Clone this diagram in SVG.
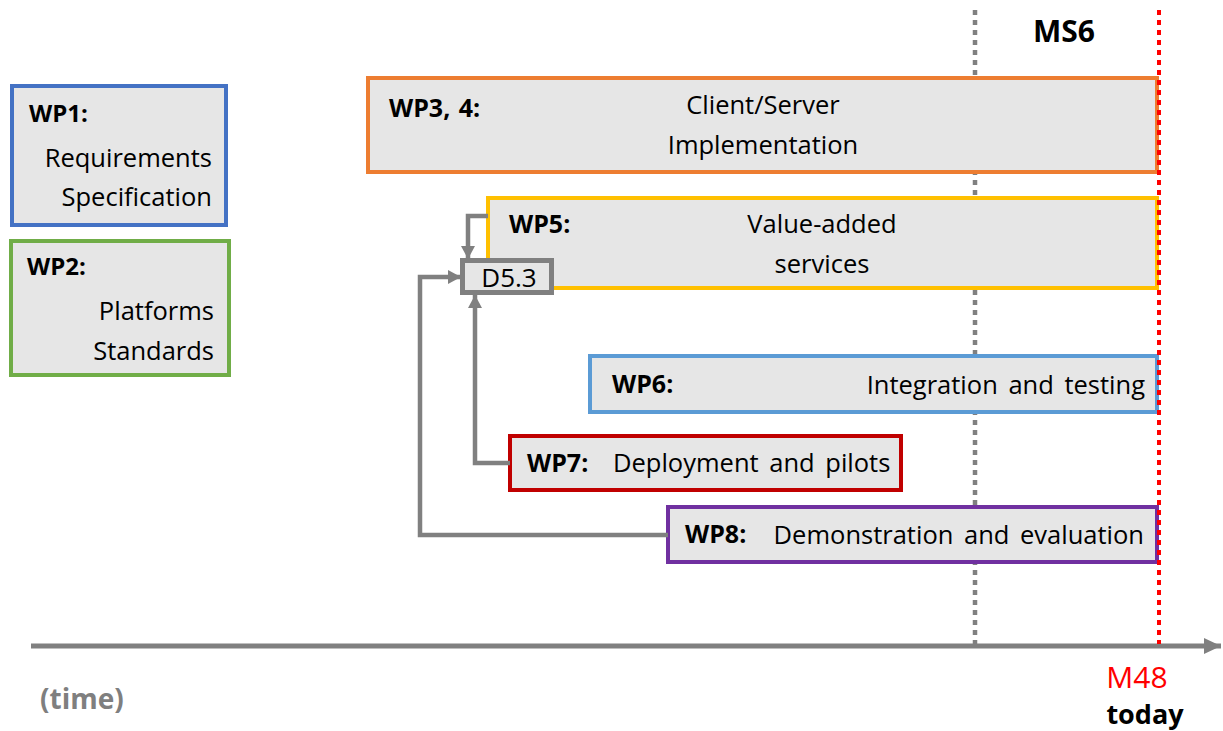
<svg xmlns="http://www.w3.org/2000/svg" width="1223" height="731" viewBox="0 0 1223 731">
<defs>
<style>
text{font-family:"Open Sans","Noto Sans","Liberation Sans",sans-serif;font-size:25.5px;fill:#000;word-spacing:4px}
.b{font-weight:bold;font-size:25px;word-spacing:2px}
.box{fill:#E6E6E6;stroke-width:4}
.con{fill:none;stroke:#808080;stroke-width:4.5;stroke-linejoin:miter}
.mid{text-anchor:middle}
.end{text-anchor:end}
</style>
<marker id="ah" markerUnits="userSpaceOnUse" markerWidth="14" markerHeight="14" refX="13" refY="7" orient="auto">
<path d="M0,0 L13,7 L0,14 Z" fill="#808080"/>
</marker>
<marker id="axh" markerUnits="userSpaceOnUse" markerWidth="18" markerHeight="16" refX="17" refY="8" orient="auto">
<path d="M0,0 L17,8 L0,16 Z" fill="#808080"/>
</marker>
</defs>
<rect width="1223" height="731" fill="#fff"/>

<g id="ms6-line">
<line x1="975" y1="10" x2="975" y2="644" stroke="#808080" stroke-width="4.5" stroke-dasharray="5 5"/>
</g>

<g id="axis">
<line x1="31" y1="646" x2="1221" y2="646" stroke="#808080" stroke-width="5" marker-end="url(#axh)"/>
<text x="40" y="709" class="b" style="fill:#7f7f7f;font-size:28px">(time)</text>
</g>

<g id="wp1">
<rect class="box" x="12" y="86" width="214" height="139" stroke="#4472C4"/>
<text x="29" y="122" class="b" style="font-size:24px">WP1:</text>
<text x="212" y="167" class="end">Requirements</text>
<text x="212" y="206" class="end">Specification</text>
</g>

<g id="wp2">
<rect class="box" x="11" y="241" width="218" height="134" stroke="#70AD47"/>
<text x="27" y="275" class="b" style="font-size:24px">WP2:</text>
<text x="214" y="320" class="end">Platforms</text>
<text x="214" y="360" class="end">Standards</text>
</g>

<g id="wp34">
<rect class="box" x="368" y="78" width="789" height="94" stroke="#ED7D31"/>
<text x="389" y="117" class="b">WP3, 4:</text>
<text x="763" y="114" class="mid">Client/Server</text>
<text x="763" y="154" class="mid">Implementation</text>
</g>

<g id="wp5">
<rect class="box" x="488" y="198" width="669" height="90" stroke="#FFC000"/>
<text x="509" y="233" class="b">WP5:</text>
<text x="822" y="233" class="mid">Value-added</text>
<text x="822" y="273" class="mid">services</text>
</g>

<g id="d53">
<rect class="box" x="462.5" y="260.5" width="89" height="32" stroke="#808080" style="stroke-width:5"/>
<text x="509" y="287" class="mid" style="font-size:26px">D5.3</text>
</g>

<g id="wp6">
<rect class="box" x="590" y="356" width="567" height="56" stroke="#5B9BD5"/>
<text x="612" y="393" class="b">WP6:</text>
<text x="1145" y="394" class="end">Integration and testing</text>
</g>

<g id="wp7">
<rect class="box" x="510" y="436" width="391" height="54" stroke="#C00000"/>
<text x="527" y="472" class="b">WP7:</text>
<text x="613" y="472">Deployment and pilots</text>
</g>

<g id="wp8">
<rect class="box" x="668" y="507" width="489" height="55" stroke="#7030A0"/>
<text x="685" y="543" class="b">WP8:</text>
<text x="1144" y="544" class="end">Demonstration and evaluation</text>
</g>

<g id="connectors">
<polyline class="con" points="488,216 468,216 468,259" marker-end="url(#ah)"/>
<polyline class="con" points="668,535 420,535 420,277 461,277" marker-end="url(#ah)"/>
<polyline class="con" points="510,463 475,463 475,295" marker-end="url(#ah)"/>
</g>

<g id="m48-line">
<line x1="1159" y1="10" x2="1159" y2="644" stroke="#FF0000" stroke-width="4" stroke-dasharray="5 5"/>
</g>

<g id="labels">
<text x="1064" y="42" class="b mid" style="font-size:30px">MS6</text>
<text x="1137" y="688" class="mid" style="fill:#FF0000;font-size:30px">M48</text>
<text x="1145" y="724" class="b mid" style="font-size:27px">today</text>
</g>
</svg>
